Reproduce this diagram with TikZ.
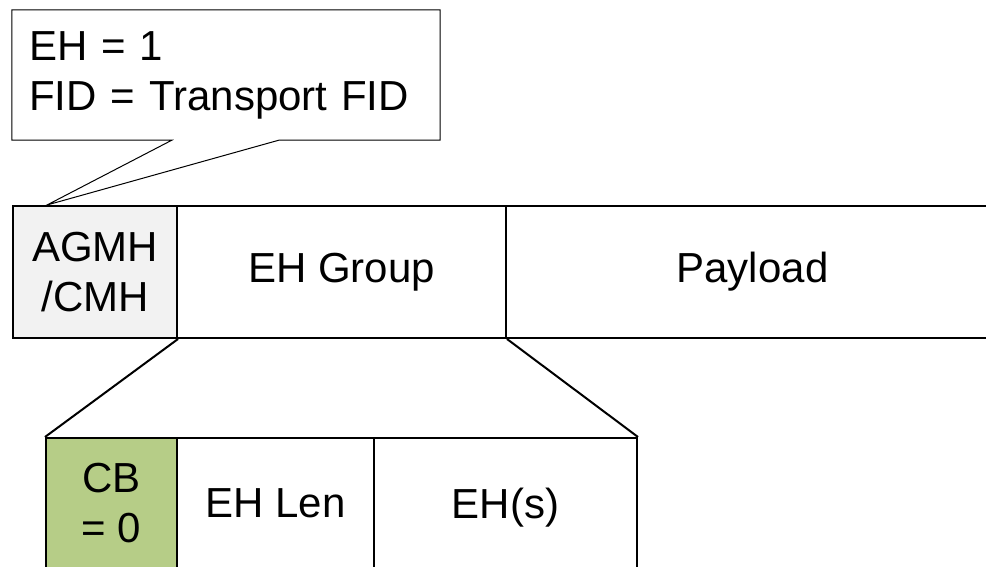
\documentclass[tikz,border=0pt]{standalone}
\usepackage{fontspec}
\setmainfont{Liberation Sans}
\usetikzlibrary{calc}
\definecolor{hdrgray}{HTML}{F2F2F2}
\definecolor{cbgreen}{HTML}{B6CD87}
\tikzset{
  every node/.style={font=\fontsize{42}{50}\selectfont},
  cell/.style={draw=black, line width=2pt, inner sep=0pt, anchor=north west,
               align=center, minimum height=#1},
  cell/.default=132pt,
  notebox/.style={inner xsep=17pt, inner ysep=0pt, align=left,
                  minimum width=428pt, minimum height=130pt, text width=394pt},
  thin/.style={line width=1pt, draw=black},
  link/.style={line width=2pt, draw=black}
}
\begin{document}
\begin{tikzpicture}[x=1pt, y=-1pt]
  \useasboundingbox (0,0) rectangle (986,566);

  % top frame: header, extension header group, payload
  \node[cell, fill=hdrgray, minimum width=164pt] (agmh) at (12,205) {AGMH\\/CMH};
  \node[cell, minimum width=329pt] (ehgroup) at (176,205) {EH Group};
  \node[cell, minimum width=493pt] (payload) at (505,205) {Payload};

  % expanded EH group
  \node[cell=130pt, fill=cbgreen, minimum width=131pt] (cb) at (45,437) {CB\\= 0};
  \node[cell=130pt, minimum width=197pt] (ehlen) at (176,437) {EH Len};
  \node[cell=130pt, minimum width=263pt, text depth=0pt] (ehs) at (373,437) {EH(s)};

  \draw[link] (agmh.south east) -- (cb.north west);
  \draw[link] (ehgroup.south east) -- (ehs.north east);

  % callout note pointing at the header
  \coordinate (tip) at ($(agmh.north west)+(35,0)$);
  \node[notebox] (note) at (226,75) {EH = 1\\FID = Transport FID};
  \draw[thin, fill=white]
    (note.north west) -- (note.north east) -- (note.south east)
    -- ($(note.south west)+(267,0)$) -- (tip)
    -- ($(note.south west)+(160,0)$) -- (note.south west) -- cycle;
  \node[notebox] at (note.center) {EH = 1\\FID = Transport FID};
\end{tikzpicture}
\end{document}
